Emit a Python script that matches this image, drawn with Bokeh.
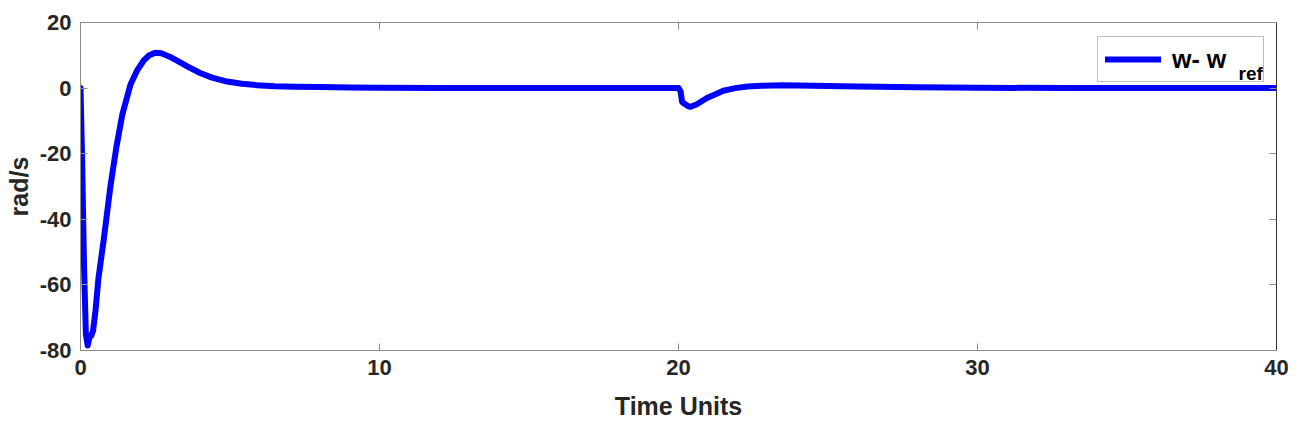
from bokeh.plotting import figure
from bokeh.models import (LinearAxis, Range1d, FixedTicker, Legend, LegendItem, Label)
from bokeh.embed import file_html
from bokeh.resources import INLINE

time_units = [0, 0.05, 0.12, 0.18, 0.24, 0.3, 0.36, 0.42, 0.5, 0.6, 0.78, 1.0, 1.2, 1.4,
              1.67, 1.9, 2.12, 2.3, 2.5, 2.7, 3.0, 3.3, 3.6, 4.0, 4.4, 4.9, 5.4, 5.9, 6.5,
              7.2, 8, 9, 10, 12, 15, 20.0, 20.07, 20.12, 20.2, 20.3, 20.4, 20.6, 20.95,
              21.2, 21.5, 21.9, 22.3, 22.8, 23.5, 24.5, 26, 28, 30, 33, 36, 40]
w_minus_wref = [0, -20, -55, -75, -78.5, -76, -75.5, -74, -68, -58, -46, -30, -18, -8,
                1, 5.5, 8.5, 10, 10.8, 10.6, 9.5, 8, 6.5, 4.6, 3.2, 2.0, 1.3, 0.9, 0.6,
                0.4, 0.3, 0.2, 0.1, 0.05, 0, 0, -1, -4.2, -4.8, -5.4, -5.7, -5.0, -3,
                -2, -0.8, 0, 0.5, 0.75, 0.85, 0.75, 0.5, 0.25, 0.1, 0.03, 0, 0]
x_ticks = [0, 10, 20, 30, 40]
y_ticks = [-80, -60, -40, -20, 0, 20]
y_tick_labels = {t: str(t) for t in y_ticks}

FONT = "Liberation Sans"
TXT = "#262626"
AX = "#8c8c8c"

p = figure(width=1299, height=424, output_backend="svg", toolbar_location=None,
           x_range=Range1d(0, 40), y_range=Range1d(-80, 20),
           min_border_left=80, min_border_right=23, min_border_top=22, min_border_bottom=74,
           background_fill_color="white", border_fill_color="white")
p.outline_line_color = AX
p.xgrid.visible = False
p.ygrid.visible = False

r = p.line(time_units, w_minus_wref, line_color="#0000ff", line_width=6,
           line_join="round", line_cap="round")

def style(ax, labels=True):
    ax.axis_line_color = AX
    ax.major_tick_line_color = AX
    ax.major_tick_in = 7
    ax.major_tick_out = 0
    ax.minor_tick_line_color = None
    ax.major_label_text_font = FONT
    ax.major_label_text_font_style = "bold"
    ax.major_label_text_font_size = "22px"
    ax.major_label_text_color = TXT
    ax.axis_label_text_font = FONT
    ax.axis_label_text_font_style = "bold"
    ax.axis_label_text_font_size = "25px"
    ax.axis_label_text_color = TXT
    if not labels:
        ax.major_label_text_font_size = "0px"
        ax.major_label_standoff = 0

p.xaxis.ticker = FixedTicker(ticks=x_ticks)
p.yaxis.ticker = FixedTicker(ticks=y_ticks)
p.yaxis.major_label_overrides = y_tick_labels
style(p.xaxis[0]); style(p.yaxis[0])
p.xaxis.axis_label = "Time Units"
p.yaxis.axis_label = "rad/s"
p.xaxis.major_label_standoff = 9
p.xaxis.axis_label_standoff = 14
p.yaxis.major_label_standoff = 9
p.yaxis.axis_label_standoff = 4

top = LinearAxis(ticker=FixedTicker(ticks=x_ticks))
right = LinearAxis(ticker=FixedTicker(ticks=y_ticks))
style(top, False); style(right, False)
top.major_label_overrides = {t: "" for t in x_ticks}
right.major_label_overrides = {t: "" for t in y_ticks}
right.axis_line_color = "#333333"
p.add_layout(top, "above")
p.add_layout(right, "right")

legend = Legend(items=[LegendItem(label="w- w", renderers=[r])],
                location=(1017, 268), glyph_width=56, glyph_height=30,
                label_height=30, label_width=84, label_standoff=11, padding=7, margin=0,
                label_text_font=FONT, label_text_font_style="bold",
                label_text_font_size="25px", label_text_color="black",
                border_line_color="#7f7f7f", border_line_width=1,
                background_fill_color="white", background_fill_alpha=0)
p.add_layout(legend)
p.add_layout(Label(x=1158, y=267, x_units="screen", y_units="screen", text="ref",
                   text_font=FONT, text_font_style="bold", text_font_size="19px",
                   text_color="black", text_baseline="bottom", level="overlay"))

open("out.html", "w").write(file_html(p, INLINE))
